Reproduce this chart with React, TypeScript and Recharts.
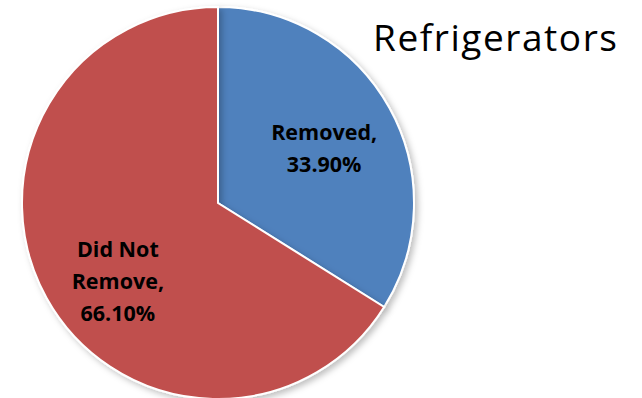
import React from 'react';
import { PieChart, Pie, Cell } from 'recharts';

const categories = ['Removed', 'Did Not Remove'];
const shares = [33.9, 66.1];
const labelLines = [['Removed,', '33.90%'], ['Did Not', 'Remove,', '66.10%']];

const colors = ['#4F81BD', '#C0504D'];
const labelShift = [{ dx: 5, dy: 0 }, { dx: 1, dy: 21 }];

const data = categories.map((name, i) => ({ name, value: shares[i] }));

const RADIAN = Math.PI / 180;

const renderLabel = (props: any) => {
  const { cx, cy, midAngle, outerRadius, index } = props;
  const r = outerRadius * 0.59;
  const x = cx + r * Math.cos(-midAngle * RADIAN) + labelShift[index].dx;
  const y = cy + r * Math.sin(-midAngle * RADIAN) + labelShift[index].dy;
  const lines = labelLines[index];
  const lh = 32;
  const start = y - ((lines.length - 1) * lh) / 2;
  return (
    <text
      x={x}
      y={start}
      textAnchor="middle"
      dominantBaseline="central"
      fill="#000"
      fontFamily="'Open Sans', sans-serif"
      fontWeight={700}
      fontSize={21.5}
    >
      {lines.map((t, i) => (
        <tspan key={i} x={x} y={start + i * lh}>
          {t}
        </tspan>
      ))}
    </text>
  );
};

const App: React.FC = () => {
  return (
    <div style={{ position: 'absolute', left: 0, top: 0, width: 642, height: 398, background: '#fff' }}>
      <PieChart width={642} height={398} margin={{ top: 0, right: 0, bottom: 0, left: 0 }}>
        <defs>
          <filter id="pieShadow" x="-10%" y="-10%" width="130%" height="130%">
            <feDropShadow dx="3" dy="3" stdDeviation="3" floodColor="#000" floodOpacity="0.25" />
          </filter>
        </defs>
        <Pie
          data={data}
          dataKey="value"
          nameKey="name"
          cx={218}
          cy={203}
          outerRadius={196}
          startAngle={90}
          endAngle={-270}
          stroke="#fff"
          strokeWidth={2}
          label={renderLabel}
          labelLine={false}
          isAnimationActive={false}
          style={{ filter: 'url(#pieShadow)' }}
        >
          {data.map((d, i) => (
            <Cell key={d.name} fill={colors[i]} />
          ))}
        </Pie>
        <text
          x={373}
          y={36}
          dominantBaseline="central"
          fontFamily="'Open Sans', sans-serif"
          fontSize={37}
          textLength={244}
          lengthAdjust="spacing"
          fill="#000"
        >
          Refrigerators
        </text>
      </PieChart>
    </div>
  );
};

export default App;
